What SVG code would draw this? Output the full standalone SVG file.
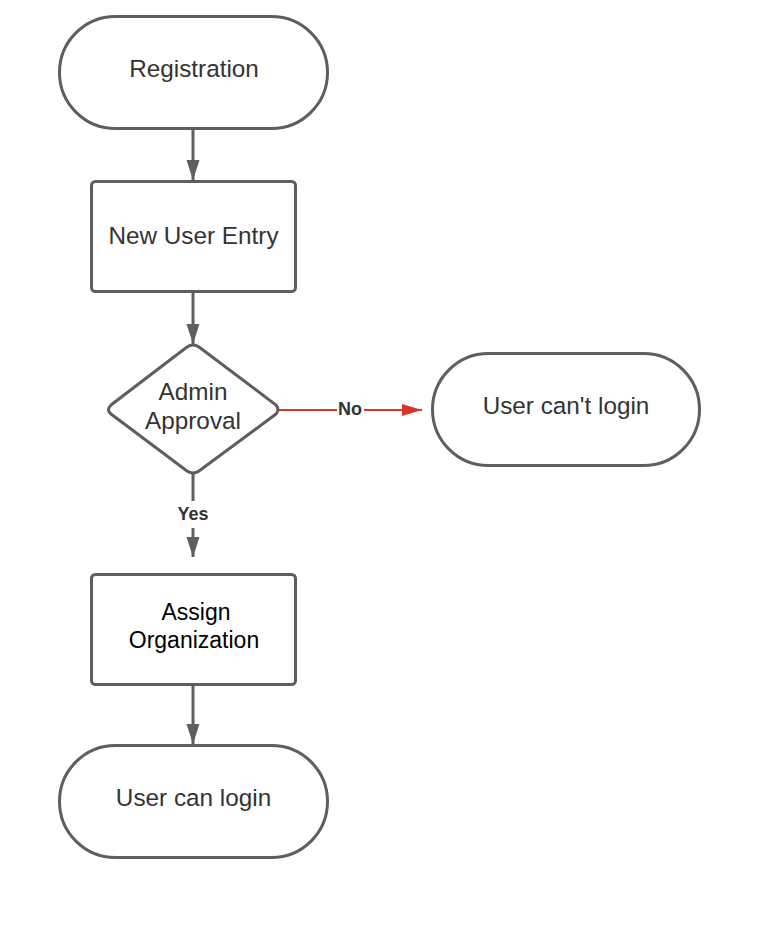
<svg xmlns="http://www.w3.org/2000/svg" width="760" height="930" viewBox="0 0 760 930">
<style>
.shape{fill:#fff;stroke:#5e5e5e;stroke-width:3}
.t{font-family:"Liberation Sans",Arial,sans-serif;font-size:24.3px;fill:#333;text-anchor:middle}
.t2{font-family:"Liberation Sans",Arial,sans-serif;font-size:23px;fill:#000;text-anchor:middle}
.lbl{font-family:"Liberation Sans",Arial,sans-serif;font-size:18px;font-weight:bold;fill:#333;text-anchor:middle}
.c{stroke:#5e5e5e;stroke-width:3;fill:none}
.r{stroke:#d9352b;stroke-width:2;fill:none}
</style>
<defs>
<marker id="ag" markerUnits="userSpaceOnUse" markerWidth="20" markerHeight="14" refX="20" refY="7" viewBox="0 0 20 14" orient="auto">
<path d="M0,0.5 L20,7 L0,13.5 Z" fill="#5e5e5e"/>
</marker>
<marker id="ar" markerUnits="userSpaceOnUse" markerWidth="20" markerHeight="14" refX="20" refY="7" viewBox="0 0 20 14" orient="auto">
<path d="M0,1 L20,7 L0,13 Z" fill="#d9352b"/>
</marker>
</defs>
<rect width="760" height="930" fill="#fff"/>
<g id="connectors">
<line class="c" x1="193" y1="129" x2="193" y2="180" marker-end="url(#ag)"/>
<line class="c" x1="193" y1="292" x2="193" y2="344" marker-end="url(#ag)"/>
<line class="r" x1="279" y1="410" x2="337" y2="410"/>
<line class="r" x1="364" y1="410" x2="422" y2="410" marker-end="url(#ar)"/>
<text class="lbl" x="350" y="415">No</text>
<line class="c" x1="193" y1="474" x2="193" y2="501"/>
<line class="c" x1="193" y1="528" x2="193" y2="557" marker-end="url(#ag)"/>
<text class="lbl" x="193" y="520">Yes</text>
<line class="c" x1="193" y1="685" x2="193" y2="744" marker-end="url(#ag)"/>
</g>
<g id="registration">
<rect class="shape" x="59.5" y="16.5" width="268" height="112" rx="56" ry="56"/>
<text class="t" x="194" y="77">Registration</text>
</g>
<g id="new-user-entry">
<rect class="shape" x="91.5" y="181.5" width="204" height="110" rx="4"/>
<text class="t" x="193.5" y="244">New User Entry</text>
</g>
<g id="admin-approval">
<path class="shape" d="M193,345 Q196,345 199,347 L276,405 Q280,410 276,414 L199,471 Q193,475 187,471 L111,414 Q106,410 111,405 L187,347 Q190,345 193,345 Z"/>
<text class="t" x="193" y="400">Admin</text>
<text class="t" x="193" y="429">Approval</text>
</g>
<g id="user-cant-login">
<rect class="shape" x="432.5" y="353.5" width="267" height="112" rx="56" ry="56"/>
<text class="t" x="566" y="414">User can't login</text>
</g>
<g id="assign-organization">
<rect class="shape" x="91.5" y="574.5" width="204" height="110" rx="4"/>
<text class="t2" x="196" y="620">Assign</text>
<text class="t2" x="194" y="648">Organization</text>
</g>
<g id="user-can-login">
<rect class="shape" x="59.5" y="745.5" width="268" height="112" rx="56" ry="56"/>
<text class="t" x="193.5" y="806">User can login</text>
</g>
</svg>
